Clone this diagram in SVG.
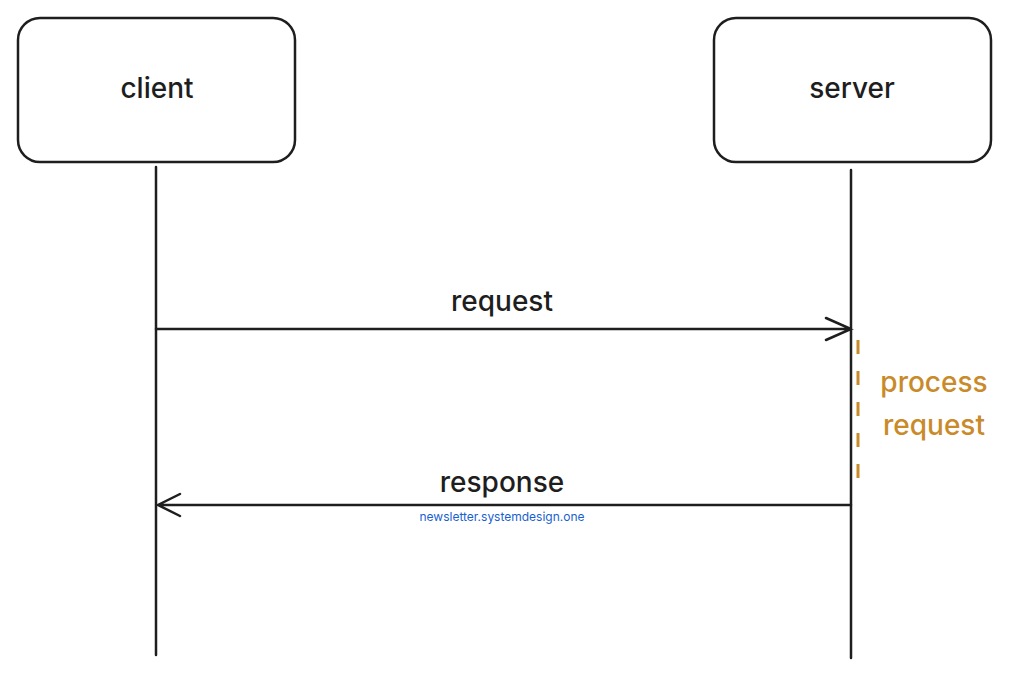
<svg xmlns="http://www.w3.org/2000/svg" width="1011" height="678" viewBox="0 0 1011 678">
<style>
.box{fill:#fff;stroke:#1e1e1e;stroke-width:2.5}
.ln{stroke:#1e1e1e;stroke-width:2.5;fill:none;stroke-linecap:round}
.t{font-family:Inter,"Liberation Sans",sans-serif;font-size:28px;font-weight:500;fill:#1e1e1e;text-anchor:middle}
.o{font-family:Inter,"Liberation Sans",sans-serif;font-size:28px;font-weight:500;fill:#c98a2a;text-anchor:middle}
</style>
<rect width="1011" height="678" fill="#fff"/>
<g id="client"><rect class="box" x="18" y="18" width="277" height="144" rx="22"/><text class="t" x="157" y="98">client</text></g>
<g id="server"><rect class="box" x="714" y="18" width="277" height="144" rx="22"/><text class="t" x="852" y="98">server</text></g>
<g id="connectors">
<path class="ln" d="M156 167V655"/>
<path class="ln" d="M851 170V658"/>
<path class="ln" d="M156 329H851M826 318L851 329L826 340"/>
<path class="ln" d="M851 505H158M180 494L158 505L180 516"/>
<path d="M858 340V494" stroke="#c98a2a" stroke-width="3" stroke-dasharray="14 17"/>
</g>
<text class="t" x="502" y="311">request</text>
<text class="t" x="502" y="492">response</text>
<text x="502" y="521" font-family="Inter,'Liberation Sans',sans-serif" font-size="12" fill="#1a5fd0" text-anchor="middle">newsletter.systemdesign.one</text>
<g id="process"><text class="o" x="934" y="392">process</text><text class="o" x="934" y="435">request</text></g>
</svg>
